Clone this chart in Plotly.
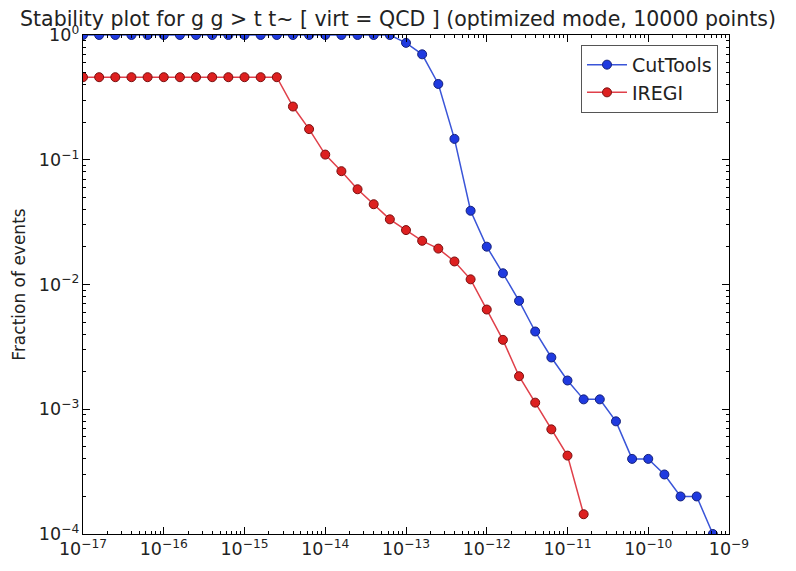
import plotly.graph_objects as go

# thresholds (10^exponent)
cut_exp = [-17.0, -16.8, -16.6, -16.4, -16.2, -16.0, -15.8, -15.6, -15.4, -15.2,
           -15.0, -14.8, -14.6, -14.4, -14.2, -14.0, -13.8, -13.6, -13.4, -13.2,
           -13.0, -12.8, -12.6, -12.4, -12.2, -12.0, -11.8, -11.6, -11.4, -11.2,
           -11.0, -10.8, -10.6, -10.4, -10.2, -10.0, -9.8, -9.6, -9.4, -9.2]
cuttools = [1.0, 1.0, 1.0, 1.0, 1.0, 1.0, 1.0, 1.0, 1.0, 1.0,
            1.0, 1.0, 1.0, 1.0, 1.0, 1.0, 1.0, 1.0, 1.0, 1.0,
            0.865, 0.70, 0.405, 0.147, 0.039, 0.0201, 0.0123, 0.0074, 0.0042, 0.0026,
            0.0017, 0.0012, 0.0012, 0.0008, 0.0004, 0.0004, 0.0003, 0.0002, 0.0002, 0.0001]

iregi_exp = [-17.0, -16.8, -16.6, -16.4, -16.2, -16.0, -15.8, -15.6, -15.4, -15.2,
             -15.0, -14.8, -14.6, -14.4, -14.2, -14.0, -13.8, -13.6, -13.4, -13.2,
             -13.0, -12.8, -12.6, -12.4, -12.2, -12.0, -11.8, -11.6, -11.4, -11.2,
             -11.0, -10.8]
iregi = [0.459, 0.459, 0.459, 0.459, 0.459, 0.459, 0.459, 0.459, 0.459, 0.459,
         0.459, 0.459, 0.459, 0.267, 0.176, 0.110, 0.081, 0.058, 0.044, 0.0333,
         0.0273, 0.0224, 0.0194, 0.0153, 0.0110, 0.0063, 0.0036, 0.00184, 0.00113, 0.00069,
         0.000425, 0.000144]

x_cut = [10 ** e for e in cut_exp]
x_ireg = [10 ** e for e in iregi_exp]

fig = go.Figure()
fig.add_trace(go.Scatter(
    x=x_cut, y=cuttools, name="CutTools", mode="lines+markers",
    line=dict(color="#3a55d8", width=1.5),
    marker=dict(color="#1f3ae0", size=9, line=dict(color="#14207a", width=1)),
))
fig.add_trace(go.Scatter(
    x=x_ireg, y=iregi, name="IREGI", mode="lines+markers",
    line=dict(color="#e0404a", width=1.5),
    marker=dict(color="#dd2020", size=9, line=dict(color="#7a1010", width=1)),
))

axis_common = dict(
    type="log", showgrid=False, zeroline=False,
    showline=True, linecolor="black", linewidth=1, mirror="ticks",
    ticks="inside", ticklen=7, tickcolor="black",
    exponentformat="power", dtick=1,
    tickfont=dict(family="DejaVu Sans", size=14, color="#222"),
    minor=dict(ticks="inside", ticklen=3, tickcolor="black", showgrid=False, dtick="D1"),
)

fig.update_xaxes(range=[-17, -9], **axis_common)
fig.update_yaxes(range=[-4, 0], labelalias={"1": "10<sup>0</sup>"},
                 title=dict(text="Fraction of events", standoff=8,
                            font=dict(family="DejaVu Sans", size=17, color="#222")),
                 **axis_common)

fig.update_layout(
    width=796, height=571,
    margin=dict(l=83, r=67, t=35, b=27),
    paper_bgcolor="white", plot_bgcolor="white",
    font=dict(family="DejaVu Sans", color="#222"),
    title=dict(text="Stability plot for g g > t t~ [ virt = QCD ] (optimized mode, 10000 points)",
               x=0.5, xanchor="center", y=1 - 19 / 571, yanchor="middle",
               font=dict(family="DejaVu Sans", size=20.5, color="#222")),
    legend=dict(x=(718 - 83) / (729 - 83), xanchor="right",
                y=1 - (45 - 35) / 509, yanchor="top",
                bordercolor="#555", borderwidth=1, bgcolor="white",
                font=dict(family="DejaVu Sans", size=19, color="#222"),
                itemwidth=40),
    showlegend=True,
)

fig.write_html("out.html")
